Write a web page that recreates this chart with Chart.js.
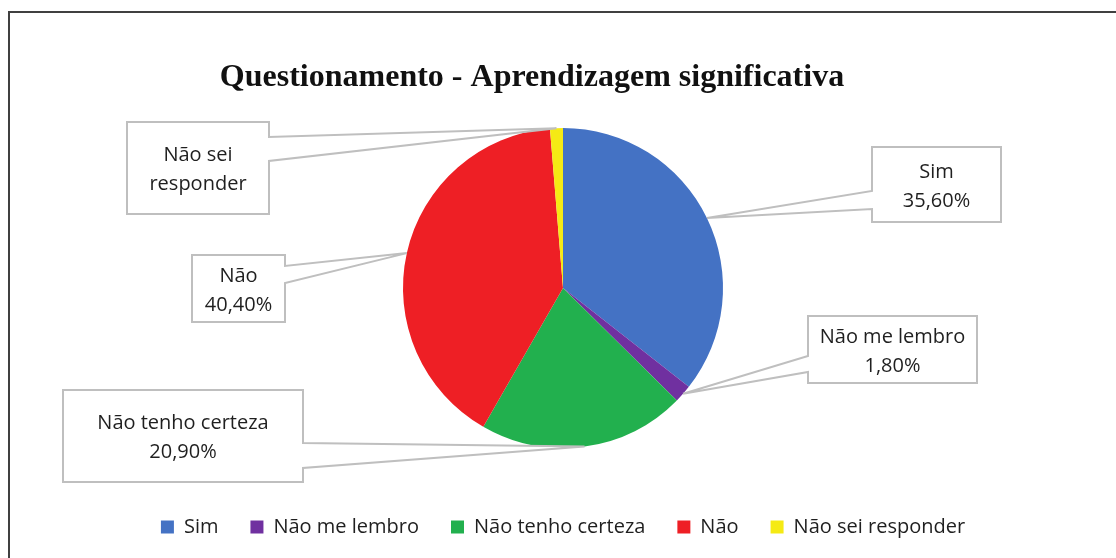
<!DOCTYPE html>
<html>
<head>
<meta charset="utf-8">
<script src="https://cdn.jsdelivr.net/npm/chart.js@4"></script>
<style>
  html, body { margin: 0; padding: 0; background: #ffffff; }
  canvas { display: block; }
</style>
</head>
<body>
<canvas id="pieChart" width="1116" height="558"></canvas>
<script>
// data
var categories = ['Sim', 'Não me lembro', 'Não tenho certeza', 'Não', 'Não sei responder'];
var percentages = [35.6, 1.8, 20.9, 40.4, 1.3];
var sliceColors = ['#4472C4', '#7030A0', '#22B04E', '#EE1F25', '#F5EA14'];
var chartTitle = 'Questionamento - Aprendizagem significativa';

// callout label text (name lines, whether value is shown)
var calloutNames = [['Sim'], ['Não me lembro'], ['Não tenho certeza'], ['Não'], ['Não sei', 'responder']];
var calloutShowValue = [true, true, true, true, false];

// callout boxes: x, y, w, h, side the pointer leaves from, pointer base y's
var calloutBoxes = [
    {x: 872, y: 147, w: 129, h: 75, side: 'left', b1: 191, b2: 209},
    {x: 808, y: 316, w: 169, h: 67, side: 'left', b1: 356, b2: 372},
    {x: 63, y: 390, w: 240, h: 92, side: 'right', b1: 443, b2: 468},
    {x: 192, y: 255, w: 93, h: 67, side: 'right', b1: 266, b2: 283},
    {x: 127, y: 122, w: 142, h: 92, side: 'right', b1: 137, b2: 161}
];

function fmtPct(v) {
    return v.toFixed(2).replace('.', ',') + '%';
}

var framePlugin = {
    id: 'frame',
    beforeDraw: function(chart) {
        var c = chart.ctx;
        c.save();
        c.strokeStyle = '#404040';
        c.lineWidth = 2;
        c.beginPath();
        c.moveTo(9, 600);
        c.lineTo(9, 12);
        c.lineTo(1200, 12);
        c.stroke();
        // title
        c.fillStyle = '#111111';
        c.font = 'bold 32px "Liberation Serif", "Times New Roman", serif';
        c.textAlign = 'center';
        c.textBaseline = 'alphabetic';
        c.fillText(chartTitle, 532, 86);
        c.restore();
    }
};

var calloutPlugin = {
    id: 'callouts',
    afterDatasetsDraw: function(chart) {
        var c = chart.ctx;
        var arcs = chart.getDatasetMeta(0).data;
        c.save();
        arcs.forEach(function(arc, i) {
            var p = arc.getProps(['x', 'y', 'startAngle', 'endAngle', 'outerRadius'], true);
            var mid = (p.startAngle + p.endAngle) / 2;
            var tx = p.x + Math.cos(mid) * p.outerRadius;
            var ty = p.y + Math.sin(mid) * p.outerRadius;
            var b = calloutBoxes[i];
            c.beginPath();
            if (b.side === 'right') {
                c.moveTo(b.x, b.y);
                c.lineTo(b.x + b.w, b.y);
                c.lineTo(b.x + b.w, b.b1);
                c.lineTo(tx, ty);
                c.lineTo(b.x + b.w, b.b2);
                c.lineTo(b.x + b.w, b.y + b.h);
                c.lineTo(b.x, b.y + b.h);
            } else {
                c.moveTo(b.x, b.y);
                c.lineTo(b.x + b.w, b.y);
                c.lineTo(b.x + b.w, b.y + b.h);
                c.lineTo(b.x, b.y + b.h);
                c.lineTo(b.x, b.b2);
                c.lineTo(tx, ty);
                c.lineTo(b.x, b.b1);
            }
            c.closePath();
            c.fillStyle = '#ffffff';
            c.fill();
            c.strokeStyle = '#BFBFBF';
            c.lineWidth = 2;
            c.lineJoin = 'miter';
            c.stroke();

            var lines = calloutNames[i].slice();
            if (calloutShowValue[i]) lines.push(fmtPct(percentages[i]));
            var lh = 29;
            var cx = b.x + b.w / 2;
            var cy = b.y + b.h / 2 + 2;
            c.fillStyle = '#1f1f1f';
            c.font = '20px "Open Sans", sans-serif';
            c.textAlign = 'center';
            c.textBaseline = 'middle';
            lines.forEach(function(t, k) {
                c.fillText(t, cx, cy + (k - (lines.length - 1) / 2) * lh);
            });
        });
        c.restore();
    }
};

var ctx = document.getElementById('pieChart').getContext('2d');
var pieChart = new Chart(ctx, {
    type: 'pie',
    data: {
        labels: categories,
        datasets: [{
            data: percentages,
            backgroundColor: sliceColors,
            borderWidth: 0,
            radius: 160
        }]
    },
    options: {
        responsive: false,
        animation: false,
        layout: {
            padding: {left: 10, top: 91, bottom: 11, right: 0}
        },
        plugins: {
            title: {display: false},
            tooltip: {enabled: false},
            legend: {
                position: 'bottom',
                labels: {
                    boxWidth: 13,
                    boxHeight: 13,
                    padding: 32,
                    color: '#1f1f1f',
                    font: {family: '"Open Sans", sans-serif', size: 20}
                }
            }
        }
    },
    plugins: [framePlugin, calloutPlugin]
});
</script>
</body>
</html>
